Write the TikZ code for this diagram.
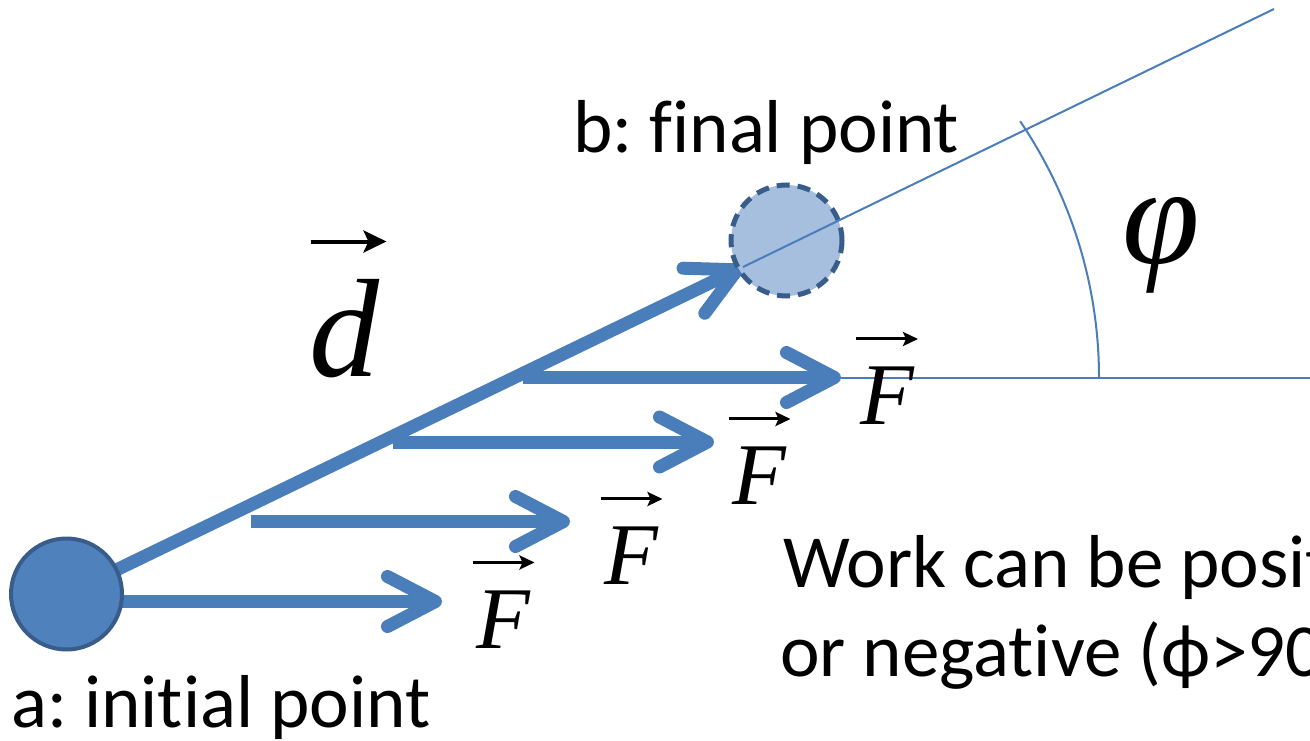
\documentclass[tikz,border=0pt]{standalone}
\usepackage{fontspec}
\setmainfont{Carlito}[Ligatures={NoCommon}]
\newfontfamily\timesf{Liberation Serif}
\usetikzlibrary{arrows.meta}
\definecolor{lineblue}{HTML}{4A7EBB}
\definecolor{fillblue}{HTML}{4F81BD}
\definecolor{edgeblue}{HTML}{385D8A}
\definecolor{paleblue}{HTML}{A7BFDE}
\frenchspacing
\begin{document}
\begin{tikzpicture}[x=1pt,y=-1pt,
  bigvec/.style={draw=lineblue, line width=13pt, -{Straight Barb[length=48pt,width=50pt,round]}},
  thinline/.style={draw=lineblue, line width=2pt},
  overarr/.style={draw=black, line width=3pt, -{Stealth[length=15pt,width=14pt,inset=3pt]}},
  bigoverarr/.style={draw=black, line width=4pt, -{Stealth[length=23pt,width=22pt,inset=5pt]}},
  pointA/.style={circle, draw=edgeblue, fill=fillblue, line width=4pt, minimum size=111pt, inner sep=0pt},
  pointB/.style={circle, draw=edgeblue, fill=paleblue, line width=5pt, dash pattern=on 13pt off 8pt, minimum size=111pt, inner sep=0pt},
  ptext/.style={font=\fontsize{75}{89}\selectfont, inner sep=0pt, anchor=base west},
  vecF/.style={font=\timesf\itshape\fontsize{88}{88}\selectfont, inner sep=0pt},
  bigsym/.style={font=\timesf\itshape\fontsize{140}{140}\selectfont, inner sep=0pt},
]
\fill[white] (0,0) rectangle (1310,741);
\useasboundingbox (0,0) rectangle (1310,741);
\clip (0,0) rectangle (1310,741);

% key points
\coordinate (A) at (66.5,594);
\coordinate (B) at (786.5,240.5);
\coordinate (dtip) at (743,267);
\coordinate (s1) at (66.5,601.5);
\coordinate (t1) at (442,601.5);
\coordinate (s2) at (251,521.5);
\coordinate (t2) at (570,521.5);
\coordinate (s3) at (393,442);
\coordinate (t3) at (714,442);
\coordinate (s4) at (523,377.5);
\coordinate (t4) at (841,377.5);
\coordinate (rayend) at (1274,9);
\coordinate (hend) at (1310,377.5);
\coordinate (arcc) at (643,377.5);

% force vectors and displacement
\draw[bigvec] (s1) -- (t1);
\draw[bigvec] (s2) -- (t2);
\draw[bigvec] (s3) -- (t3);
\draw[bigvec] (s4) -- (t4);
\draw[bigvec] (A) -- (dtip);

% points
\node[pointA] (a) at (A) {};
\node[pointB] (b) at (B) {};

% angle construction
\draw[thinline] (dtip) -- (rayend);
\draw[thinline] (t4) -- (hend);
\draw[thinline] (arcc) ++(0:456) arc[start angle=0, end angle=-34.2, radius=456];

% symbols
\node[bigsym] (dsym) at (344.5,329) {d};
\draw[bigoverarr] ([shift={(-34,-38)}]dsym.north) -- ([shift={(42,-38)}]dsym.north);
\node[bigsym] (phi) at (1161,245.5) {φ};

\node[vecF] (F1) at (503.5,619.5) {F};
\node[vecF] (F2) at (631.5,556) {F};
\node[vecF] (F3) at (759.5,476) {F};
\node[vecF] (F4) at (887,396) {F};
\foreach \f in {F1,F2,F3,F4}{
  \draw[overarr] ([shift={(-31,-28)}]\f.north) -- ([shift={(31,-28)}]\f.north);
}

% texts
\node[ptext] (atext) at (11,727) {a: initial point};
\node[ptext] (btext) at (573,153) {b: final point};
\node[ptext] (work1) at (783,587) {Work can be posit};
\node[ptext] (work2) at (780,676) {or negative (ϕ>90};
\end{tikzpicture}
\end{document}
